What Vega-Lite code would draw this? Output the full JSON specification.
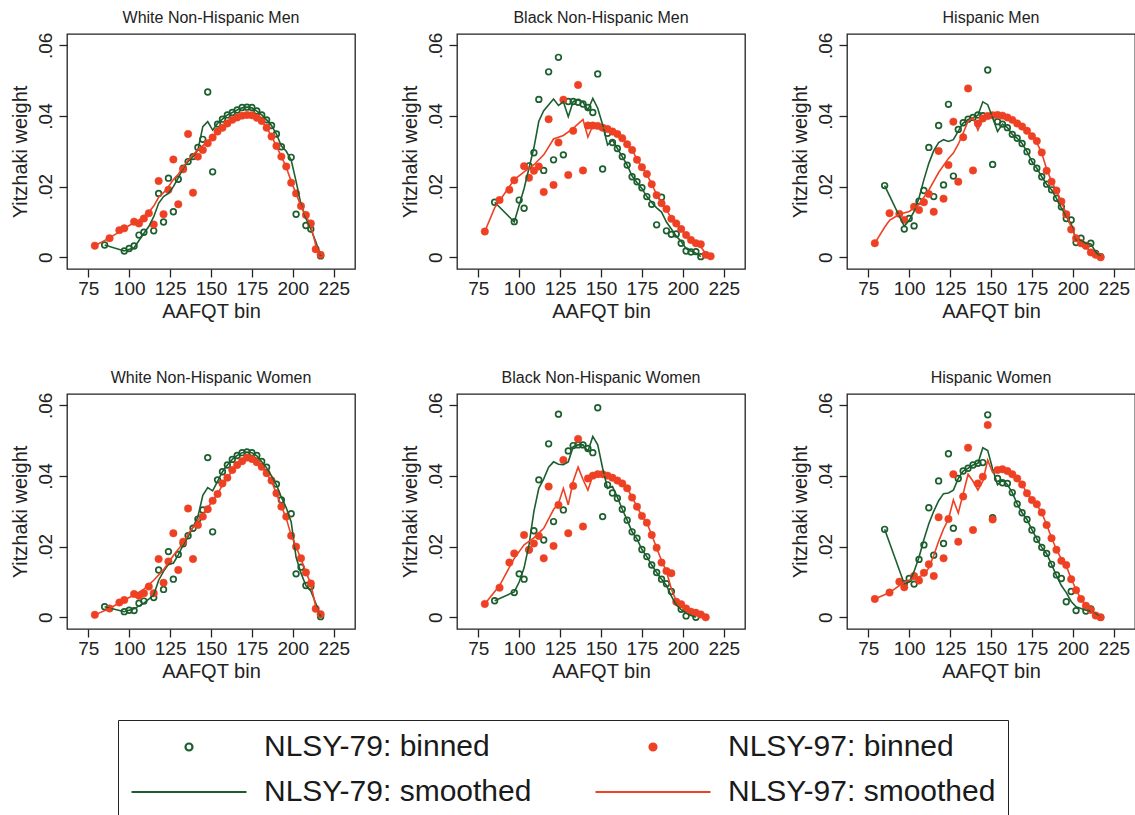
{
  "$schema": "https://vega.github.io/schema/vega-lite/v6.json",
  "background": "white",
  "padding": {"left": 9, "top": 9, "right": 0, "bottom": 0},
  "data": {"values": [
    {"group": "White Non-Hispanic Men", "bin": 79, "b97": 0.0033, "s97": 0.0033},
    {"group": "White Non-Hispanic Men", "bin": 85, "b79": 0.0035, "s79": 0.0035},
    {"group": "White Non-Hispanic Men", "bin": 88, "b97": 0.0054, "s97": 0.0055},
    {"group": "White Non-Hispanic Men", "bin": 94, "b97": 0.0077, "s97": 0.0072},
    {"group": "White Non-Hispanic Men", "bin": 97, "b79": 0.0018, "b97": 0.0082, "s79": 0.0018},
    {"group": "White Non-Hispanic Men", "bin": 100, "b79": 0.0025, "s97": 0.0090},
    {"group": "White Non-Hispanic Men", "bin": 103, "b79": 0.0032, "b97": 0.0101, "s79": 0.0027},
    {"group": "White Non-Hispanic Men", "bin": 106, "b79": 0.0063, "b97": 0.0096, "s97": 0.0105},
    {"group": "White Non-Hispanic Men", "bin": 109, "b79": 0.0071, "b97": 0.0110, "s79": 0.0068},
    {"group": "White Non-Hispanic Men", "bin": 112, "b97": 0.0125, "s79": 0.0087, "s97": 0.0128},
    {"group": "White Non-Hispanic Men", "bin": 115, "b79": 0.0075, "b97": 0.0093, "s79": 0.0115, "s97": 0.0145},
    {"group": "White Non-Hispanic Men", "bin": 118, "b79": 0.0181, "b97": 0.0216, "s79": 0.0153, "s97": 0.0170},
    {"group": "White Non-Hispanic Men", "bin": 121, "b79": 0.0100, "b97": 0.0122, "s79": 0.0172, "s97": 0.0183},
    {"group": "White Non-Hispanic Men", "bin": 124, "b79": 0.0224, "b97": 0.0191, "s79": 0.0181, "s97": 0.0200},
    {"group": "White Non-Hispanic Men", "bin": 127, "b79": 0.0129, "b97": 0.0277, "s79": 0.0200, "s97": 0.0220},
    {"group": "White Non-Hispanic Men", "bin": 130, "b79": 0.0221, "b97": 0.0150, "s79": 0.0225, "s97": 0.0235},
    {"group": "White Non-Hispanic Men", "bin": 133, "b79": 0.0252, "b97": 0.0249, "s79": 0.0252, "s97": 0.0255},
    {"group": "White Non-Hispanic Men", "bin": 136, "b79": 0.0271, "b97": 0.0349, "s79": 0.0271, "s97": 0.0275},
    {"group": "White Non-Hispanic Men", "bin": 139, "b79": 0.0285, "b97": 0.0183, "s79": 0.0285, "s97": 0.0290},
    {"group": "White Non-Hispanic Men", "bin": 142, "b79": 0.0311, "b97": 0.0285, "s79": 0.0304, "s97": 0.0304},
    {"group": "White Non-Hispanic Men", "bin": 145, "b79": 0.0334, "b97": 0.0304, "s79": 0.0370, "s97": 0.0316},
    {"group": "White Non-Hispanic Men", "bin": 148, "b79": 0.0468, "b97": 0.0323, "s79": 0.0384, "s97": 0.0328},
    {"group": "White Non-Hispanic Men", "bin": 151, "b79": 0.0242, "b97": 0.0339, "s79": 0.0360, "s97": 0.0342},
    {"group": "White Non-Hispanic Men", "bin": 154, "b79": 0.0377, "b97": 0.0356, "s79": 0.0379, "s97": 0.0356},
    {"group": "White Non-Hispanic Men", "bin": 157, "b79": 0.0391, "b97": 0.0367, "s79": 0.0391, "s97": 0.0367},
    {"group": "White Non-Hispanic Men", "bin": 160, "b79": 0.0403, "b97": 0.0379, "s79": 0.0403, "s97": 0.0379},
    {"group": "White Non-Hispanic Men", "bin": 163, "b79": 0.0410, "b97": 0.0389, "s79": 0.0410, "s97": 0.0389},
    {"group": "White Non-Hispanic Men", "bin": 166, "b79": 0.0417, "b97": 0.0396, "s79": 0.0417, "s97": 0.0396},
    {"group": "White Non-Hispanic Men", "bin": 169, "b79": 0.0424, "b97": 0.0401, "s79": 0.0423, "s97": 0.0401},
    {"group": "White Non-Hispanic Men", "bin": 172, "b79": 0.0425, "b97": 0.0403, "s79": 0.0425, "s97": 0.0403},
    {"group": "White Non-Hispanic Men", "bin": 175, "b79": 0.0424, "b97": 0.0402, "s79": 0.0423, "s97": 0.0402},
    {"group": "White Non-Hispanic Men", "bin": 178, "b79": 0.0414, "b97": 0.0395, "s79": 0.0414, "s97": 0.0395},
    {"group": "White Non-Hispanic Men", "bin": 181, "b79": 0.0403, "b97": 0.0386, "s79": 0.0403, "s97": 0.0386},
    {"group": "White Non-Hispanic Men", "bin": 184, "b79": 0.0389, "b97": 0.0367, "s79": 0.0389, "s97": 0.0367},
    {"group": "White Non-Hispanic Men", "bin": 187, "b79": 0.0373, "b97": 0.0342, "s79": 0.0373, "s97": 0.0342},
    {"group": "White Non-Hispanic Men", "bin": 190, "b79": 0.0349, "b97": 0.0315, "s79": 0.0349, "s97": 0.0315},
    {"group": "White Non-Hispanic Men", "bin": 193, "b79": 0.0313, "b97": 0.0285, "s79": 0.0315, "s97": 0.0285},
    {"group": "White Non-Hispanic Men", "bin": 196, "b97": 0.0257, "s79": 0.0300, "s97": 0.0255},
    {"group": "White Non-Hispanic Men", "bin": 199, "b79": 0.0283, "b97": 0.0211, "s79": 0.0275, "s97": 0.0215},
    {"group": "White Non-Hispanic Men", "bin": 202, "b79": 0.0122, "b97": 0.0181, "s79": 0.0215, "s97": 0.0180},
    {"group": "White Non-Hispanic Men", "bin": 205, "b97": 0.0145, "s79": 0.0150, "s97": 0.0145},
    {"group": "White Non-Hispanic Men", "bin": 208, "b79": 0.0090, "b97": 0.0120, "s79": 0.0110, "s97": 0.0118},
    {"group": "White Non-Hispanic Men", "bin": 211, "b79": 0.0080, "b97": 0.0096, "s79": 0.0080, "s97": 0.0090},
    {"group": "White Non-Hispanic Men", "bin": 214, "b97": 0.0023, "s79": 0.0045, "s97": 0.0035},
    {"group": "White Non-Hispanic Men", "bin": 217, "b79": 0.0004, "b97": 0.0007, "s79": 0.0004, "s97": 0.0007},

    {"group": "Black Non-Hispanic Men", "bin": 79, "b97": 0.0073, "s97": 0.0073},
    {"group": "Black Non-Hispanic Men", "bin": 85, "b79": 0.0156, "s79": 0.0156, "s97": 0.0140},
    {"group": "Black Non-Hispanic Men", "bin": 88, "b97": 0.0162},
    {"group": "Black Non-Hispanic Men", "bin": 91, "s97": 0.0180},
    {"group": "Black Non-Hispanic Men", "bin": 94, "b97": 0.0191},
    {"group": "Black Non-Hispanic Men", "bin": 97, "b79": 0.0101, "b97": 0.0218, "s79": 0.0100, "s97": 0.0220},
    {"group": "Black Non-Hispanic Men", "bin": 100, "b79": 0.0162},
    {"group": "Black Non-Hispanic Men", "bin": 103, "b79": 0.0139, "b97": 0.0258, "s79": 0.0195, "s97": 0.0242},
    {"group": "Black Non-Hispanic Men", "bin": 106, "b79": 0.0259, "b97": 0.0225},
    {"group": "Black Non-Hispanic Men", "bin": 109, "b79": 0.0296, "b97": 0.0245, "s79": 0.0310, "s97": 0.0262},
    {"group": "Black Non-Hispanic Men", "bin": 112, "b79": 0.0447, "b97": 0.0257, "s79": 0.0385},
    {"group": "Black Non-Hispanic Men", "bin": 115, "b79": 0.0246, "b97": 0.0185, "s79": 0.0415, "s97": 0.0290},
    {"group": "Black Non-Hispanic Men", "bin": 118, "b79": 0.0525, "b97": 0.0391},
    {"group": "Black Non-Hispanic Men", "bin": 121, "b79": 0.0276, "b97": 0.0205, "s79": 0.0448, "s97": 0.0335},
    {"group": "Black Non-Hispanic Men", "bin": 124, "b79": 0.0566, "b97": 0.0325, "s79": 0.0430},
    {"group": "Black Non-Hispanic Men", "bin": 127, "b79": 0.0290, "b97": 0.0446, "s79": 0.0440, "s97": 0.0345},
    {"group": "Black Non-Hispanic Men", "bin": 130, "b79": 0.0441, "b97": 0.0233, "s79": 0.0398},
    {"group": "Black Non-Hispanic Men", "bin": 133, "b79": 0.0441, "b97": 0.0358, "s79": 0.0441, "s97": 0.0365},
    {"group": "Black Non-Hispanic Men", "bin": 136, "b79": 0.0439, "b97": 0.0488, "s79": 0.0445},
    {"group": "Black Non-Hispanic Men", "bin": 139, "b79": 0.0434, "b97": 0.0246, "s79": 0.0439, "s97": 0.0390},
    {"group": "Black Non-Hispanic Men", "bin": 142, "b79": 0.0424, "b97": 0.0373, "s79": 0.0417, "s97": 0.0340},
    {"group": "Black Non-Hispanic Men", "bin": 145, "b79": 0.0410, "b97": 0.0373, "s79": 0.0450, "s97": 0.0373},
    {"group": "Black Non-Hispanic Men", "bin": 148, "b79": 0.0519, "b97": 0.0372, "s79": 0.0422, "s97": 0.0372},
    {"group": "Black Non-Hispanic Men", "bin": 151, "b79": 0.0250, "b97": 0.0367, "s79": 0.0375, "s97": 0.0367},
    {"group": "Black Non-Hispanic Men", "bin": 154, "b79": 0.0351, "b97": 0.0363, "s79": 0.0318, "s97": 0.0363},
    {"group": "Black Non-Hispanic Men", "bin": 157, "b79": 0.0325, "b97": 0.0356, "s79": 0.0332, "s97": 0.0356},
    {"group": "Black Non-Hispanic Men", "bin": 160, "b79": 0.0308, "b97": 0.0349, "s79": 0.0308, "s97": 0.0349},
    {"group": "Black Non-Hispanic Men", "bin": 163, "b79": 0.0285, "b97": 0.0337, "s79": 0.0285, "s97": 0.0337},
    {"group": "Black Non-Hispanic Men", "bin": 166, "b79": 0.0261, "b97": 0.0320, "s79": 0.0261, "s97": 0.0320},
    {"group": "Black Non-Hispanic Men", "bin": 169, "b79": 0.0228, "b97": 0.0304, "s79": 0.0230, "s97": 0.0304},
    {"group": "Black Non-Hispanic Men", "bin": 172, "b79": 0.0214, "b97": 0.0276, "s79": 0.0212, "s97": 0.0278},
    {"group": "Black Non-Hispanic Men", "bin": 175, "b79": 0.0197, "b97": 0.0255, "s79": 0.0195, "s97": 0.0255},
    {"group": "Black Non-Hispanic Men", "bin": 178, "b79": 0.0172, "b97": 0.0236, "s79": 0.0172, "s97": 0.0235},
    {"group": "Black Non-Hispanic Men", "bin": 181, "b79": 0.0150, "b97": 0.0207, "s79": 0.0155, "s97": 0.0207},
    {"group": "Black Non-Hispanic Men", "bin": 184, "b79": 0.0092, "b97": 0.0176, "s79": 0.0140, "s97": 0.0178},
    {"group": "Black Non-Hispanic Men", "bin": 187, "b79": 0.0170, "b97": 0.0153, "s79": 0.0128, "s97": 0.0153},
    {"group": "Black Non-Hispanic Men", "bin": 190, "b79": 0.0075, "b97": 0.0137, "s79": 0.0100, "s97": 0.0135},
    {"group": "Black Non-Hispanic Men", "bin": 193, "b79": 0.0065, "b97": 0.0109, "s79": 0.0080, "s97": 0.0110},
    {"group": "Black Non-Hispanic Men", "bin": 196, "b79": 0.0066, "b97": 0.0096, "s79": 0.0060, "s97": 0.0095},
    {"group": "Black Non-Hispanic Men", "bin": 199, "b79": 0.0040, "b97": 0.0080, "s79": 0.0045, "s97": 0.0080},
    {"group": "Black Non-Hispanic Men", "bin": 202, "b79": 0.0018, "b97": 0.0063, "s79": 0.0025, "s97": 0.0063},
    {"group": "Black Non-Hispanic Men", "bin": 205, "b79": 0.0015, "b97": 0.0049, "s79": 0.0018, "s97": 0.0050},
    {"group": "Black Non-Hispanic Men", "bin": 208, "b79": 0.0016, "b97": 0.0040, "s79": 0.0012, "s97": 0.0040},
    {"group": "Black Non-Hispanic Men", "bin": 211, "b79": 0.0002, "b97": 0.0037, "s79": 0.0002, "s97": 0.0030},
    {"group": "Black Non-Hispanic Men", "bin": 214, "b97": 0.0007, "s97": 0.0010},
    {"group": "Black Non-Hispanic Men", "bin": 217, "b97": 0.0003, "s97": 0.0003},

    {"group": "Hispanic Men", "bin": 79, "b97": 0.0040, "s97": 0.0040},
    {"group": "Hispanic Men", "bin": 85, "b79": 0.0203, "s79": 0.0203, "s97": 0.0085},
    {"group": "Hispanic Men", "bin": 88, "b97": 0.0125, "s97": 0.0105},
    {"group": "Hispanic Men", "bin": 94, "b97": 0.0123, "s97": 0.0122},
    {"group": "Hispanic Men", "bin": 97, "b79": 0.0080, "b97": 0.0106, "s79": 0.0088},
    {"group": "Hispanic Men", "bin": 100, "b79": 0.0110, "s79": 0.0105, "s97": 0.0130},
    {"group": "Hispanic Men", "bin": 103, "b79": 0.0089, "b97": 0.0143, "s79": 0.0130},
    {"group": "Hispanic Men", "bin": 106, "b79": 0.0159, "b97": 0.0134, "s79": 0.0168, "s97": 0.0150},
    {"group": "Hispanic Men", "bin": 109, "b79": 0.0189, "b97": 0.0156, "s79": 0.0220},
    {"group": "Hispanic Men", "bin": 112, "b79": 0.0311, "b97": 0.0179, "s79": 0.0266, "s97": 0.0190},
    {"group": "Hispanic Men", "bin": 115, "b79": 0.0172, "b97": 0.0129, "s79": 0.0302},
    {"group": "Hispanic Men", "bin": 118, "b79": 0.0373, "b97": 0.0301, "s79": 0.0325, "s97": 0.0240},
    {"group": "Hispanic Men", "bin": 121, "b79": 0.0205, "b97": 0.0166, "s79": 0.0333},
    {"group": "Hispanic Men", "bin": 124, "b79": 0.0433, "b97": 0.0261, "s79": 0.0328, "s97": 0.0280},
    {"group": "Hispanic Men", "bin": 127, "b79": 0.0230, "b97": 0.0384, "s79": 0.0333, "s97": 0.0295},
    {"group": "Hispanic Men", "bin": 130, "b79": 0.0362, "b97": 0.0214, "s79": 0.0357, "s97": 0.0320},
    {"group": "Hispanic Men", "bin": 133, "b79": 0.0381, "b97": 0.0340, "s79": 0.0380, "s97": 0.0352},
    {"group": "Hispanic Men", "bin": 136, "b79": 0.0391, "b97": 0.0478, "s79": 0.0390, "s97": 0.0385},
    {"group": "Hispanic Men", "bin": 139, "b79": 0.0396, "b97": 0.0246, "s79": 0.0395, "s97": 0.0395},
    {"group": "Hispanic Men", "bin": 142, "b79": 0.0403, "b97": 0.0379, "s79": 0.0402, "s97": 0.0360},
    {"group": "Hispanic Men", "bin": 145, "b79": 0.0401, "b97": 0.0393, "s79": 0.0440, "s97": 0.0393},
    {"group": "Hispanic Men", "bin": 148, "b79": 0.0530, "b97": 0.0400, "s79": 0.0432, "s97": 0.0400},
    {"group": "Hispanic Men", "bin": 151, "b79": 0.0263, "b97": 0.0402, "s79": 0.0395, "s97": 0.0402},
    {"group": "Hispanic Men", "bin": 154, "b79": 0.0384, "b97": 0.0403, "s79": 0.0356, "s97": 0.0403},
    {"group": "Hispanic Men", "bin": 157, "b79": 0.0377, "b97": 0.0401, "s79": 0.0377, "s97": 0.0401},
    {"group": "Hispanic Men", "bin": 160, "b79": 0.0367, "b97": 0.0396, "s79": 0.0367, "s97": 0.0396},
    {"group": "Hispanic Men", "bin": 163, "b79": 0.0348, "b97": 0.0389, "s79": 0.0348, "s97": 0.0389},
    {"group": "Hispanic Men", "bin": 166, "b79": 0.0337, "b97": 0.0379, "s79": 0.0337, "s97": 0.0379},
    {"group": "Hispanic Men", "bin": 169, "b79": 0.0322, "b97": 0.0370, "s79": 0.0322, "s97": 0.0370},
    {"group": "Hispanic Men", "bin": 172, "b79": 0.0299, "b97": 0.0358, "s79": 0.0299, "s97": 0.0358},
    {"group": "Hispanic Men", "bin": 175, "b79": 0.0271, "b97": 0.0343, "s79": 0.0271, "s97": 0.0343},
    {"group": "Hispanic Men", "bin": 178, "b79": 0.0252, "b97": 0.0329, "s79": 0.0252, "s97": 0.0325},
    {"group": "Hispanic Men", "bin": 181, "b79": 0.0228, "b97": 0.0297, "s79": 0.0228, "s97": 0.0295},
    {"group": "Hispanic Men", "bin": 184, "b79": 0.0207, "b97": 0.0245, "s79": 0.0207, "s97": 0.0250},
    {"group": "Hispanic Men", "bin": 187, "b79": 0.0191, "b97": 0.0214, "s79": 0.0191, "s97": 0.0215},
    {"group": "Hispanic Men", "bin": 190, "b79": 0.0167, "b97": 0.0189, "s79": 0.0167, "s97": 0.0188},
    {"group": "Hispanic Men", "bin": 193, "b79": 0.0143, "b97": 0.0158, "s79": 0.0140, "s97": 0.0158},
    {"group": "Hispanic Men", "bin": 196, "b79": 0.0110, "b97": 0.0122, "s79": 0.0115, "s97": 0.0122},
    {"group": "Hispanic Men", "bin": 199, "b79": 0.0106, "b97": 0.0079, "s79": 0.0095, "s97": 0.0085},
    {"group": "Hispanic Men", "bin": 202, "b79": 0.0042, "b97": 0.0054, "s79": 0.0050, "s97": 0.0055},
    {"group": "Hispanic Men", "bin": 205, "b79": 0.0054, "b97": 0.0040, "s79": 0.0048, "s97": 0.0040},
    {"group": "Hispanic Men", "bin": 208, "b79": 0.0033, "b97": 0.0033, "s79": 0.0040, "s97": 0.0030},
    {"group": "Hispanic Men", "bin": 211, "b79": 0.0040, "b97": 0.0014, "s79": 0.0038, "s97": 0.0015},
    {"group": "Hispanic Men", "bin": 214, "b79": 0.0011, "b97": 0.0007, "s79": 0.0015, "s97": 0.0007},
    {"group": "Hispanic Men", "bin": 217, "b79": 0.0002, "b97": 0.0000, "s79": 0.0002, "s97": 0.0000},

    {"group": "White Non-Hispanic Women", "bin": 79, "b97": 0.0007, "s97": 0.0007},
    {"group": "White Non-Hispanic Women", "bin": 85, "b79": 0.0030, "s79": 0.0030},
    {"group": "White Non-Hispanic Women", "bin": 88, "b97": 0.0025, "s97": 0.0025},
    {"group": "White Non-Hispanic Women", "bin": 94, "b97": 0.0042},
    {"group": "White Non-Hispanic Women", "bin": 97, "b79": 0.0016, "b97": 0.0049, "s79": 0.0016, "s97": 0.0049},
    {"group": "White Non-Hispanic Women", "bin": 100, "b79": 0.0020},
    {"group": "White Non-Hispanic Women", "bin": 103, "b79": 0.0019, "b97": 0.0066, "s79": 0.0024, "s97": 0.0063},
    {"group": "White Non-Hispanic Women", "bin": 106, "b79": 0.0040, "b97": 0.0061},
    {"group": "White Non-Hispanic Women", "bin": 109, "b79": 0.0046, "b97": 0.0068, "s79": 0.0040, "s97": 0.0080},
    {"group": "White Non-Hispanic Women", "bin": 112, "b97": 0.0087},
    {"group": "White Non-Hispanic Women", "bin": 115, "b79": 0.0056, "b97": 0.0068, "s79": 0.0063, "s97": 0.0105},
    {"group": "White Non-Hispanic Women", "bin": 118, "b79": 0.0134, "b97": 0.0165, "s79": 0.0105},
    {"group": "White Non-Hispanic Women", "bin": 121, "b79": 0.0079, "b97": 0.0098, "s79": 0.0130, "s97": 0.0135},
    {"group": "White Non-Hispanic Women", "bin": 124, "b79": 0.0186, "b97": 0.0158, "s79": 0.0150},
    {"group": "White Non-Hispanic Women", "bin": 127, "b79": 0.0108, "b97": 0.0238, "s79": 0.0153, "s97": 0.0175},
    {"group": "White Non-Hispanic Women", "bin": 130, "b79": 0.0178, "b97": 0.0134, "s79": 0.0177},
    {"group": "White Non-Hispanic Women", "bin": 133, "b79": 0.0208, "b97": 0.0214, "s79": 0.0205, "s97": 0.0210},
    {"group": "White Non-Hispanic Women", "bin": 136, "b79": 0.0231, "b97": 0.0308, "s79": 0.0228, "s97": 0.0235},
    {"group": "White Non-Hispanic Women", "bin": 139, "b79": 0.0252, "b97": 0.0165, "s79": 0.0255, "s97": 0.0255},
    {"group": "White Non-Hispanic Women", "bin": 142, "b79": 0.0278, "b97": 0.0261, "s79": 0.0285, "s97": 0.0275},
    {"group": "White Non-Hispanic Women", "bin": 145, "b79": 0.0304, "b97": 0.0285, "s79": 0.0345, "s97": 0.0292},
    {"group": "White Non-Hispanic Women", "bin": 148, "b79": 0.0452, "b97": 0.0306, "s79": 0.0367, "s97": 0.0310},
    {"group": "White Non-Hispanic Women", "bin": 151, "b79": 0.0242, "b97": 0.0330, "s79": 0.0358, "s97": 0.0330},
    {"group": "White Non-Hispanic Women", "bin": 154, "b79": 0.0389, "b97": 0.0349, "s79": 0.0385, "s97": 0.0349},
    {"group": "White Non-Hispanic Women", "bin": 157, "b79": 0.0412, "b97": 0.0379, "s79": 0.0412, "s97": 0.0375},
    {"group": "White Non-Hispanic Women", "bin": 160, "b79": 0.0431, "b97": 0.0395, "s79": 0.0431, "s97": 0.0395},
    {"group": "White Non-Hispanic Women", "bin": 163, "b79": 0.0447, "b97": 0.0417, "s79": 0.0447, "s97": 0.0415},
    {"group": "White Non-Hispanic Women", "bin": 166, "b79": 0.0458, "b97": 0.0431, "s79": 0.0458, "s97": 0.0430},
    {"group": "White Non-Hispanic Women", "bin": 169, "b79": 0.0466, "b97": 0.0442, "s79": 0.0466, "s97": 0.0442},
    {"group": "White Non-Hispanic Women", "bin": 172, "b79": 0.0468, "b97": 0.0452, "s79": 0.0468, "s97": 0.0450},
    {"group": "White Non-Hispanic Women", "bin": 175, "b79": 0.0466, "b97": 0.0448, "s79": 0.0466, "s97": 0.0448},
    {"group": "White Non-Hispanic Women", "bin": 178, "b79": 0.0458, "b97": 0.0439, "s79": 0.0457, "s97": 0.0439},
    {"group": "White Non-Hispanic Women", "bin": 181, "b79": 0.0441, "b97": 0.0426, "s79": 0.0440, "s97": 0.0426},
    {"group": "White Non-Hispanic Women", "bin": 184, "b79": 0.0425, "b97": 0.0408, "s79": 0.0423, "s97": 0.0407},
    {"group": "White Non-Hispanic Women", "bin": 187, "b97": 0.0387, "s79": 0.0400, "s97": 0.0385},
    {"group": "White Non-Hispanic Women", "bin": 190, "b79": 0.0377, "b97": 0.0351, "s79": 0.0375, "s97": 0.0350},
    {"group": "White Non-Hispanic Women", "bin": 193, "b79": 0.0332, "b97": 0.0313, "s79": 0.0340, "s97": 0.0315},
    {"group": "White Non-Hispanic Women", "bin": 196, "b97": 0.0285, "s79": 0.0310, "s97": 0.0280},
    {"group": "White Non-Hispanic Women", "bin": 199, "b79": 0.0293, "b97": 0.0231, "s79": 0.0270, "s97": 0.0232},
    {"group": "White Non-Hispanic Women", "bin": 202, "b79": 0.0123, "b97": 0.0200, "s79": 0.0170, "s97": 0.0200},
    {"group": "White Non-Hispanic Women", "bin": 205, "b79": 0.0142, "b97": 0.0167, "s79": 0.0125, "s97": 0.0165},
    {"group": "White Non-Hispanic Women", "bin": 208, "b79": 0.0090, "b97": 0.0127, "s79": 0.0090, "s97": 0.0128},
    {"group": "White Non-Hispanic Women", "bin": 211, "b79": 0.0087, "b97": 0.0096, "s79": 0.0075, "s97": 0.0095},
    {"group": "White Non-Hispanic Women", "bin": 214, "b97": 0.0024, "s79": 0.0040, "s97": 0.0030},
    {"group": "White Non-Hispanic Women", "bin": 217, "b79": 0.0002, "b97": 0.0009, "s79": 0.0002, "s97": 0.0009},

    {"group": "Black Non-Hispanic Women", "bin": 79, "b97": 0.0038, "s97": 0.0038},
    {"group": "Black Non-Hispanic Women", "bin": 85, "b79": 0.0047, "s79": 0.0047},
    {"group": "Black Non-Hispanic Women", "bin": 88, "b97": 0.0084, "s97": 0.0090},
    {"group": "Black Non-Hispanic Women", "bin": 94, "b97": 0.0155},
    {"group": "Black Non-Hispanic Women", "bin": 97, "b79": 0.0070, "b97": 0.0181, "s79": 0.0072, "s97": 0.0167},
    {"group": "Black Non-Hispanic Women", "bin": 100, "b79": 0.0123, "s79": 0.0100},
    {"group": "Black Non-Hispanic Women", "bin": 103, "b79": 0.0108, "b97": 0.0233, "s79": 0.0140, "s97": 0.0205},
    {"group": "Black Non-Hispanic Women", "bin": 106, "b79": 0.0191, "b97": 0.0191, "s79": 0.0205},
    {"group": "Black Non-Hispanic Women", "bin": 109, "b79": 0.0245, "b97": 0.0209, "s79": 0.0300, "s97": 0.0225},
    {"group": "Black Non-Hispanic Women", "bin": 112, "b79": 0.0389, "b97": 0.0230, "s79": 0.0365},
    {"group": "Black Non-Hispanic Women", "bin": 115, "b79": 0.0219, "b97": 0.0167, "s79": 0.0392, "s97": 0.0252},
    {"group": "Black Non-Hispanic Women", "bin": 118, "b79": 0.0491, "b97": 0.0370, "s79": 0.0425},
    {"group": "Black Non-Hispanic Women", "bin": 121, "b79": 0.0271, "b97": 0.0202, "s79": 0.0440, "s97": 0.0305},
    {"group": "Black Non-Hispanic Women", "bin": 124, "b79": 0.0575, "b97": 0.0318, "s79": 0.0433, "s97": 0.0322},
    {"group": "Black Non-Hispanic Women", "bin": 127, "b79": 0.0304, "b97": 0.0445, "s79": 0.0432, "s97": 0.0365},
    {"group": "Black Non-Hispanic Women", "bin": 130, "b79": 0.0471, "b97": 0.0238, "s79": 0.0440, "s97": 0.0318},
    {"group": "Black Non-Hispanic Women", "bin": 133, "b79": 0.0486, "b97": 0.0372, "s79": 0.0483, "s97": 0.0385},
    {"group": "Black Non-Hispanic Women", "bin": 136, "b79": 0.0488, "b97": 0.0505, "s79": 0.0488, "s97": 0.0425},
    {"group": "Black Non-Hispanic Women", "bin": 139, "b79": 0.0488, "b97": 0.0257, "s79": 0.0488, "s97": 0.0390},
    {"group": "Black Non-Hispanic Women", "bin": 142, "b79": 0.0478, "b97": 0.0393, "s79": 0.0470, "s97": 0.0360},
    {"group": "Black Non-Hispanic Women", "bin": 145, "b79": 0.0466, "b97": 0.0401, "s79": 0.0512, "s97": 0.0401},
    {"group": "Black Non-Hispanic Women", "bin": 148, "b79": 0.0593, "b97": 0.0405, "s79": 0.0488, "s97": 0.0405},
    {"group": "Black Non-Hispanic Women", "bin": 151, "b79": 0.0285, "b97": 0.0405, "s79": 0.0422, "s97": 0.0405},
    {"group": "Black Non-Hispanic Women", "bin": 154, "b79": 0.0375, "b97": 0.0401, "s79": 0.0365, "s97": 0.0401},
    {"group": "Black Non-Hispanic Women", "bin": 157, "b79": 0.0352, "b97": 0.0395, "s79": 0.0370, "s97": 0.0395},
    {"group": "Black Non-Hispanic Women", "bin": 160, "b79": 0.0337, "b97": 0.0387, "s79": 0.0340, "s97": 0.0387},
    {"group": "Black Non-Hispanic Women", "bin": 163, "b79": 0.0306, "b97": 0.0379, "s79": 0.0306, "s97": 0.0379},
    {"group": "Black Non-Hispanic Women", "bin": 166, "b79": 0.0275, "b97": 0.0365, "s79": 0.0275, "s97": 0.0365},
    {"group": "Black Non-Hispanic Women", "bin": 169, "b79": 0.0242, "b97": 0.0339, "s79": 0.0242, "s97": 0.0340},
    {"group": "Black Non-Hispanic Women", "bin": 172, "b79": 0.0224, "b97": 0.0313, "s79": 0.0222, "s97": 0.0313},
    {"group": "Black Non-Hispanic Women", "bin": 175, "b79": 0.0192, "b97": 0.0287, "s79": 0.0192, "s97": 0.0287},
    {"group": "Black Non-Hispanic Women", "bin": 178, "b79": 0.0172, "b97": 0.0268, "s79": 0.0172, "s97": 0.0268},
    {"group": "Black Non-Hispanic Women", "bin": 181, "b79": 0.0148, "b97": 0.0233, "s79": 0.0148, "s97": 0.0233},
    {"group": "Black Non-Hispanic Women", "bin": 184, "b79": 0.0127, "b97": 0.0197, "s79": 0.0127, "s97": 0.0197},
    {"group": "Black Non-Hispanic Women", "bin": 187, "b79": 0.0108, "b97": 0.0155, "s79": 0.0108, "s97": 0.0160},
    {"group": "Black Non-Hispanic Women", "bin": 190, "b79": 0.0095, "b97": 0.0131, "s79": 0.0090, "s97": 0.0130},
    {"group": "Black Non-Hispanic Women", "bin": 193, "b79": 0.0073, "b97": 0.0125, "s79": 0.0060, "s97": 0.0080},
    {"group": "Black Non-Hispanic Women", "bin": 196, "b97": 0.0044, "s79": 0.0035, "s97": 0.0046},
    {"group": "Black Non-Hispanic Women", "bin": 199, "b79": 0.0023, "b97": 0.0037, "s79": 0.0022, "s97": 0.0037},
    {"group": "Black Non-Hispanic Women", "bin": 202, "b79": 0.0004, "b97": 0.0025, "s79": 0.0012, "s97": 0.0025},
    {"group": "Black Non-Hispanic Women", "bin": 205, "b97": 0.0016, "s79": 0.0005, "s97": 0.0016},
    {"group": "Black Non-Hispanic Women", "bin": 208, "b79": 0.0000, "b97": 0.0013, "s79": 0.0000, "s97": 0.0012},
    {"group": "Black Non-Hispanic Women", "bin": 211, "b97": 0.0008, "s97": 0.0007},
    {"group": "Black Non-Hispanic Women", "bin": 214, "b97": 0.0000, "s97": 0.0000},

    {"group": "Hispanic Women", "bin": 79, "b97": 0.0052, "s97": 0.0052},
    {"group": "Hispanic Women", "bin": 85, "b79": 0.0249, "s79": 0.0249},
    {"group": "Hispanic Women", "bin": 88, "b97": 0.0070, "s97": 0.0070},
    {"group": "Hispanic Women", "bin": 94, "b97": 0.0101},
    {"group": "Hispanic Women", "bin": 97, "b79": 0.0095, "b97": 0.0085, "s79": 0.0095, "s97": 0.0100},
    {"group": "Hispanic Women", "bin": 100, "b79": 0.0110, "s79": 0.0100},
    {"group": "Hispanic Women", "bin": 103, "b79": 0.0094, "b97": 0.0117, "s79": 0.0130, "s97": 0.0110},
    {"group": "Hispanic Women", "bin": 106, "b79": 0.0164, "b97": 0.0104, "s79": 0.0170},
    {"group": "Hispanic Women", "bin": 109, "b79": 0.0205, "b97": 0.0126, "s79": 0.0220, "s97": 0.0120},
    {"group": "Hispanic Women", "bin": 112, "b79": 0.0310, "b97": 0.0150, "s79": 0.0265, "s97": 0.0140},
    {"group": "Hispanic Women", "bin": 115, "b79": 0.0176, "b97": 0.0117, "s79": 0.0300, "s97": 0.0175},
    {"group": "Hispanic Women", "bin": 118, "b79": 0.0386, "b97": 0.0283, "s79": 0.0330, "s97": 0.0215},
    {"group": "Hispanic Women", "bin": 121, "b79": 0.0209, "b97": 0.0167, "s79": 0.0350, "s97": 0.0250},
    {"group": "Hispanic Women", "bin": 124, "b79": 0.0463, "b97": 0.0278, "s79": 0.0352, "s97": 0.0278},
    {"group": "Hispanic Women", "bin": 127, "b79": 0.0252, "b97": 0.0405, "s79": 0.0360, "s97": 0.0332},
    {"group": "Hispanic Women", "bin": 130, "b79": 0.0393, "b97": 0.0214, "s79": 0.0393, "s97": 0.0295},
    {"group": "Hispanic Women", "bin": 133, "b79": 0.0414, "b97": 0.0342, "s79": 0.0414, "s97": 0.0350},
    {"group": "Hispanic Women", "bin": 136, "b79": 0.0422, "b97": 0.0480, "s79": 0.0422, "s97": 0.0405},
    {"group": "Hispanic Women", "bin": 139, "b79": 0.0431, "b97": 0.0247, "s79": 0.0431, "s97": 0.0385},
    {"group": "Hispanic Women", "bin": 142, "b79": 0.0436, "b97": 0.0379, "s79": 0.0436, "s97": 0.0360},
    {"group": "Hispanic Women", "bin": 145, "b79": 0.0438, "b97": 0.0398, "s79": 0.0480, "s97": 0.0385},
    {"group": "Hispanic Women", "bin": 148, "b79": 0.0573, "b97": 0.0544, "s79": 0.0472, "s97": 0.0445},
    {"group": "Hispanic Women", "bin": 151, "b79": 0.0282, "b97": 0.0277, "s79": 0.0420, "s97": 0.0410},
    {"group": "Hispanic Women", "bin": 154, "b79": 0.0393, "b97": 0.0417, "s79": 0.0375, "s97": 0.0417},
    {"group": "Hispanic Women", "bin": 157, "b79": 0.0381, "b97": 0.0419, "s79": 0.0388, "s97": 0.0419},
    {"group": "Hispanic Women", "bin": 160, "b79": 0.0379, "b97": 0.0414, "s79": 0.0376, "s97": 0.0414},
    {"group": "Hispanic Women", "bin": 163, "b79": 0.0353, "b97": 0.0405, "s79": 0.0353, "s97": 0.0405},
    {"group": "Hispanic Women", "bin": 166, "b79": 0.0321, "b97": 0.0393, "s79": 0.0321, "s97": 0.0393},
    {"group": "Hispanic Women", "bin": 169, "b79": 0.0296, "b97": 0.0376, "s79": 0.0296, "s97": 0.0376},
    {"group": "Hispanic Women", "bin": 172, "b79": 0.0277, "b97": 0.0351, "s79": 0.0277, "s97": 0.0351},
    {"group": "Hispanic Women", "bin": 175, "b79": 0.0247, "b97": 0.0332, "s79": 0.0248, "s97": 0.0332},
    {"group": "Hispanic Women", "bin": 178, "b79": 0.0221, "b97": 0.0320, "s79": 0.0222, "s97": 0.0318},
    {"group": "Hispanic Women", "bin": 181, "b79": 0.0198, "b97": 0.0297, "s79": 0.0198, "s97": 0.0296},
    {"group": "Hispanic Women", "bin": 184, "b79": 0.0181, "b97": 0.0261, "s79": 0.0180, "s97": 0.0262},
    {"group": "Hispanic Women", "bin": 187, "b79": 0.0150, "b97": 0.0224, "s79": 0.0150, "s97": 0.0225},
    {"group": "Hispanic Women", "bin": 190, "b79": 0.0120, "b97": 0.0191, "s79": 0.0118, "s97": 0.0192},
    {"group": "Hispanic Women", "bin": 193, "b79": 0.0110, "b97": 0.0160, "s79": 0.0090, "s97": 0.0165},
    {"group": "Hispanic Women", "bin": 196, "b79": 0.0044, "b97": 0.0148, "s79": 0.0070, "s97": 0.0145},
    {"group": "Hispanic Women", "bin": 199, "b79": 0.0073, "b97": 0.0108, "s79": 0.0045, "s97": 0.0110},
    {"group": "Hispanic Women", "bin": 202, "b79": 0.0019, "b97": 0.0077, "s79": 0.0030, "s97": 0.0078},
    {"group": "Hispanic Women", "bin": 205, "b97": 0.0052, "s79": 0.0025, "s97": 0.0052},
    {"group": "Hispanic Women", "bin": 208, "b79": 0.0018, "b97": 0.0033, "s79": 0.0020, "s97": 0.0033},
    {"group": "Hispanic Women", "bin": 211, "b79": 0.0024, "b97": 0.0021, "s79": 0.0018, "s97": 0.0020},
    {"group": "Hispanic Women", "bin": 214, "b97": 0.0005, "s79": 0.0010, "s97": 0.0005},
    {"group": "Hispanic Women", "bin": 217, "b79": 0.0000, "b97": 0.0000, "s79": 0.0000, "s97": 0.0000}
  ]},
  "facet": {
    "field": "group",
    "type": "nominal",
    "sort": ["White Non-Hispanic Men", "Black Non-Hispanic Men", "Hispanic Men", "White Non-Hispanic Women", "Black Non-Hispanic Women", "Hispanic Women"],
    "header": {"title": null, "labelFontSize": 16, "labelFont": "Liberation Sans", "labelColor": "#222", "labelPadding": 6}
  },
  "columns": 3,
  "spacing": {"column": 102, "row": 125},
  "bounds": "flush",
  "resolve": {"axis": {"x": "independent", "y": "independent"}},
  "spec": {
    "width": 288,
    "height": 235,
    "layer": [
      {
        "mark": {"type": "point", "filled": false, "size": 32, "strokeWidth": 1.7, "opacity": 1},
        "encoding": {
          "x": {"field": "bin", "type": "quantitative", "scale": {"domain": [62, 238], "nice": false, "zero": false}, "axis": {"title": "AAFQT bin", "values": [75, 100, 125, 150, 175, 200, 225]}},
          "y": {"field": "b79", "type": "quantitative", "scale": {"domain": [-0.0033, 0.0632], "nice": false, "zero": false}, "axis": {"title": "Yitzhaki weight", "values": [0, 0.02, 0.04, 0.06]}},
          "stroke": {
            "datum": "NLSY-79: binned",
            "type": "nominal",
            "scale": {"domain": ["NLSY-79: binned", "NLSY-97: binned", "NLSY-79: smoothed", "NLSY-97: smoothed"], "range": ["#1c5f2e", "#ee4124", "#1c5f2e", "#ee4124"]},
            "legend": {
              "title": null,
              "orient": "none",
              "legendX": 51,
              "legendY": 686,
              "direction": "horizontal",
              "columns": 2,
              "symbolSize": 49,
              "symbolStrokeWidth": 2.2,
              "symbolOffset": 44,
              "symbolOpacity": 1,
              "labelFontSize": 30,
              "labelFont": "Liberation Sans",
              "labelColor": "#1a1a1a",
              "labelLimit": 500,
              "labelOffset": 60,
              "columnPadding": 59,
              "rowPadding": 15,
              "padding": 12,
              "strokeColor": "#222"
            }
          },
          "fill": {
            "datum": "NLSY-79: binned",
            "type": "nominal",
            "scale": {"domain": ["NLSY-79: binned", "NLSY-97: binned", "NLSY-79: smoothed", "NLSY-97: smoothed"], "range": ["transparent", "#ee4124", "transparent", "transparent"]}
          },
          "shape": {
            "datum": "NLSY-79: binned",
            "type": "nominal",
            "scale": {"domain": ["NLSY-79: binned", "NLSY-97: binned", "NLSY-79: smoothed", "NLSY-97: smoothed"], "range": ["circle", "circle", "M-16.43,0L16.43,0", "M-16.43,0L16.43,0"]}
          }
        }
      },
      {
        "mark": {"type": "point", "filled": true, "size": 56, "strokeWidth": 0.5, "opacity": 1},
        "encoding": {
          "x": {"field": "bin", "type": "quantitative", "axis": {"title": "AAFQT bin", "values": [75, 100, 125, 150, 175, 200, 225]}},
          "y": {"field": "b97", "type": "quantitative", "axis": {"title": "Yitzhaki weight", "values": [0, 0.02, 0.04, 0.06]}},
          "stroke": {"datum": "NLSY-97: binned", "type": "nominal"},
          "fill": {"datum": "NLSY-97: binned", "type": "nominal"},
          "shape": {"datum": "NLSY-97: binned", "type": "nominal"}
        }
      },
      {
        "mark": {"type": "line", "strokeWidth": 1.6, "invalid": "filter"},
        "encoding": {
          "x": {"field": "bin", "type": "quantitative", "axis": {"title": "AAFQT bin", "values": [75, 100, 125, 150, 175, 200, 225]}},
          "y": {"field": "s79", "type": "quantitative", "axis": {"title": "Yitzhaki weight", "values": [0, 0.02, 0.04, 0.06]}},
          "stroke": {"datum": "NLSY-79: smoothed", "type": "nominal"}
        }
      },
      {
        "mark": {"type": "line", "strokeWidth": 1.6, "invalid": "filter"},
        "encoding": {
          "x": {"field": "bin", "type": "quantitative", "axis": {"title": "AAFQT bin", "values": [75, 100, 125, 150, 175, 200, 225]}},
          "y": {"field": "s97", "type": "quantitative", "axis": {"title": "Yitzhaki weight", "values": [0, 0.02, 0.04, 0.06]}},
          "stroke": {"datum": "NLSY-97: smoothed", "type": "nominal"}
        }
      }
    ]
  },
  "config": {
    "font": "Liberation Sans",
    "view": {"stroke": "#222", "strokeWidth": 1.3},
    "axis": {
      "grid": false,
      "domain": false,
      "ticks": true,
      "tickColor": "#222",
      "tickSize": 8,
      "tickWidth": 1.3,
      "labelColor": "#222",
      "titleColor": "#222",
      "labelFont": "Liberation Sans",
      "titleFont": "Liberation Sans",
      "titleFontWeight": "normal",
      "labelFontSize": 19,
      "titleFontSize": 20,
      "labelFlush": false,
      "labelOverlap": false
    },
    "axisX": {"labelPadding": 2, "titlePadding": 3},
    "axisY": {
      "labelAngle": -90,
      "labelAlign": "center",
      "labelBaseline": "alphabetic",
      "labelPadding": 8,
      "titlePadding": 6,
      "labelExpr": "datum.value == 0 ? '0' : replace(format(datum.value, '.2f'), '0.', '.')"
    }
  }
}
